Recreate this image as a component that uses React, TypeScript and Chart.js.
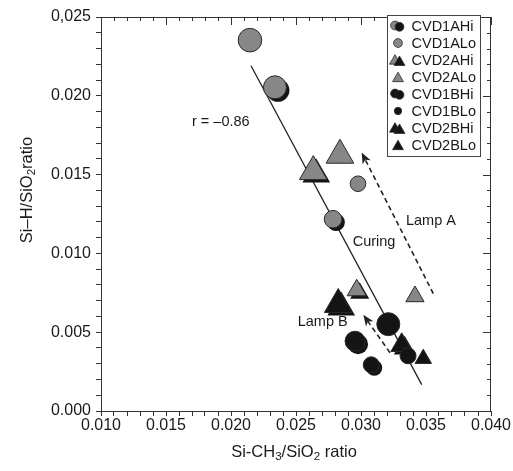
import React, { useEffect, useRef } from 'react';
import { Chart, registerables } from 'chart.js';

Chart.register(...registerables);

// ---------- data ----------
const xTickLabels = ['0.010', '0.015', '0.020', '0.025', '0.030', '0.035', '0.040'];
const yTickLabels = ['0.000', '0.005', '0.010', '0.015', '0.020', '0,025'];

const seriesNames = ['CVD1AHi', 'CVD1ALo', 'CVD2AHi', 'CVD2ALo', 'CVD1BHi', 'CVD1BLo', 'CVD2BHi', 'CVD2BLo'];

const cvd1AHiX = [0.02338, 0.02785];
const cvd1AHiY = [0.02054, 0.01217];
const cvd1ALoX = [0.02146, 0.02977];
const cvd1ALoY = [0.02353, 0.01442];
const cvd2AHiX = [0.02633, 0.02967];
const cvd2AHiY = [0.01519, 0.00766];
const cvd2ALoX = [0.02838, 0.03415];
const cvd2ALoY = [0.01623, 0.00727];
const cvd1BHiX = [0.02954, 0.03079];
const cvd1BHiY = [0.00443, 0.00293];
const cvd1BLoX = [0.0321, 0.03362];
const cvd1BLoY = [0.00551, 0.0035];
const cvd2BHiX = [0.02825, 0.03313];
const cvd2BHiY = [0.00676, 0.00417];
const cvd2BLoX = [0.03479];
const cvd2BLoY = [0.00332];

const fitX = [0.02154, 0.03467];
const fitY = [0.02191, 0.00167];

const lampAArrowX = [0.03556, 0.03005]; // tail, tip
const lampAArrowY = [0.00745, 0.0164];
const lampBArrowX = [0.03223, 0.03018];
const lampBArrowY = [0.0037, 0.0061];

const noteTexts = ['r = –0.86', 'Curing', 'Lamp A', 'Lamp B'];
const noteX = [0.0170, 0.02936, 0.03346, 0.02513];
const noteY = [0.01835, 0.01072, 0.01203, 0.00564];

// ---------- styles ----------
const GRAY = '#878787';
const BLACK = '#141414';
const EDGE = '#2a2a2a';
const AXIS = '#333333';
const TEXT = '#1a1a1a';
const FONT = "'Liberation Sans', Arial, Helvetica, sans-serif";

const pts = (xs: number[], ys: number[]) => xs.map((x, i) => ({ x, y: ys[i] }));

function pathShape(ctx: CanvasRenderingContext2D, shape: string, x: number, y: number, r: number) {
  ctx.beginPath();
  if (shape === 'circle') {
    ctx.arc(x, y, r, 0, Math.PI * 2);
  } else {
    const k = Math.sqrt(3) / 2;
    ctx.moveTo(x, y - r);
    ctx.lineTo(x + k * r, y + r / 2);
    ctx.lineTo(x - k * r, y + r / 2);
    ctx.closePath();
  }
}

function drawShape(ctx: CanvasRenderingContext2D, shape: string, x: number, y: number, r: number, fill: string) {
  pathShape(ctx, shape, x, y, r);
  ctx.fillStyle = fill;
  ctx.fill();
  ctx.strokeStyle = EDGE;
  ctx.lineWidth = 0.8;
  ctx.stroke();
}

function drawArrow(ctx: CanvasRenderingContext2D, x1: number, y1: number, x2: number, y2: number) {
  const ang = Math.atan2(y2 - y1, x2 - x1);
  const c = Math.cos(ang), s = Math.sin(ang);
  const headLen = 11, headW = 4.5;
  const bx = x2 - headLen * c, by = y2 - headLen * s;
  ctx.save();
  ctx.strokeStyle = '#222';
  ctx.lineWidth = 1.6;
  ctx.setLineDash([5, 3.5]);
  ctx.beginPath();
  ctx.moveTo(x1, y1);
  ctx.lineTo(bx + 3 * c, by + 3 * s);
  ctx.stroke();
  ctx.setLineDash([]);
  ctx.fillStyle = '#222';
  ctx.beginPath();
  ctx.moveTo(x2, y2);
  ctx.lineTo(bx - headW * s, by + headW * c);
  ctx.lineTo(bx + 3 * c, by + 3 * s);
  ctx.lineTo(bx + headW * s, by - headW * c);
  ctx.closePath();
  ctx.fill();
  ctx.restore();
}

function drawRich(ctx: CanvasRenderingContext2D, parts: [string, boolean][], size: number) {
  let w = 0;
  const widths = parts.map(([t, sub]) => {
    ctx.font = `${sub ? size * 0.7 : size}px ${FONT}`;
    return ctx.measureText(t).width;
  });
  widths.forEach((x) => (w += x));
  let cx = -w / 2;
  parts.forEach(([t, sub], i) => {
    ctx.font = `${sub ? size * 0.7 : size}px ${FONT}`;
    ctx.fillText(t, cx, sub ? size * 0.3 : 0);
    cx += widths[i];
  });
}

const decorPlugin = {
  id: 'decor',
  beforeDatasetDraw(chart: any, args: any) {
    const ds = chart.data.datasets[args.index];
    if (!ds.shadow) return;
    const ctx: CanvasRenderingContext2D = chart.ctx;
    const meta = chart.getDatasetMeta(args.index);
    const shape = ds.pointStyle === 'circle' ? 'circle' : 'triangle';
    ctx.save();
    meta.data.forEach((el: any) => {
      const r = el.options.radius;
      pathShape(ctx, shape, el.x + 3, el.y + 3, r);
      ctx.fillStyle = BLACK;
      ctx.fill();
    });
    ctx.restore();
  },
  afterDraw(chart: any) {
    const ctx: CanvasRenderingContext2D = chart.ctx;
    const xs = chart.scales.x;
    const ys = chart.scales.y;
    const { left, right, top, bottom } = chart.chartArea;

    ctx.save();
    ctx.strokeStyle = AXIS;
    ctx.lineWidth = 1;
    ctx.beginPath();
    ctx.moveTo(left, top + 0.5);
    ctx.lineTo(right, top + 0.5);
    ctx.moveTo(right - 0.5, top);
    ctx.lineTo(right - 0.5, bottom);
    xs.ticks.forEach((t: any, i: number) => {
      const px = Math.round(xs.getPixelForValue(t.value)) + 0.5;
      const len = i % 5 === 0 ? 8 : 4;
      ctx.moveTo(px, top);
      ctx.lineTo(px, top + len);
    });
    ys.ticks.forEach((t: any, i: number) => {
      const py = Math.round(ys.getPixelForValue(t.value)) + 0.5;
      const len = i % 5 === 0 ? 8 : 4;
      ctx.moveTo(right, py);
      ctx.lineTo(right - len, py);
    });
    ctx.stroke();

    drawArrow(ctx, xs.getPixelForValue(lampAArrowX[0]), ys.getPixelForValue(lampAArrowY[0]),
      xs.getPixelForValue(lampAArrowX[1]), ys.getPixelForValue(lampAArrowY[1]));
    drawArrow(ctx, xs.getPixelForValue(lampBArrowX[0]), ys.getPixelForValue(lampBArrowY[0]),
      xs.getPixelForValue(lampBArrowX[1]), ys.getPixelForValue(lampBArrowY[1]));

    ctx.fillStyle = TEXT;
    ctx.font = `14.5px ${FONT}`;
    ctx.textAlign = 'left';
    ctx.textBaseline = 'middle';
    noteTexts.forEach((t, i) => {
      ctx.fillText(t, xs.getPixelForValue(noteX[i]), ys.getPixelForValue(noteY[i]));
    });

    ctx.textAlign = 'left';
    ctx.textBaseline = 'middle';
    ctx.save();
    ctx.translate((left + right) / 2 - 2, 452);
    drawRich(ctx, [['Si-CH', false], ['3', true], ['/SiO', false], ['2', true], [' ratio', false]], 16.5);
    ctx.restore();
    ctx.save();
    ctx.translate(27, 190);
    ctx.rotate(-Math.PI / 2);
    drawRich(ctx, [['Si–H/SiO', false], ['2', true], ['ratio', false]], 16.5);
    ctx.restore();

    // legend
    const lx = 387.5, ly = 15.5, lw = 93, lh = 141;
    ctx.fillStyle = '#ffffff';
    ctx.fillRect(lx, ly, lw, lh);
    ctx.strokeStyle = '#444';
    ctx.lineWidth = 1;
    ctx.strokeRect(lx, ly, lw, lh);
    const datasets = chart.data.datasets.filter((d: any) => d.inLegend);
    datasets.forEach((d: any, i: number) => {
      const cy = 26 + i * 17;
      const shape = d.pointStyle === 'circle' ? 'circle' : 'triangle';
      const fill = d.backgroundColor;
      const r = shape === 'circle' ? (d.smallIcon ? 3.7 : 4.4) : 6.3;
      const oy = shape === 'circle' ? 0 : 1.5;
      if (d.shadow) {
        drawShape(ctx, shape, 395, cy + oy - 0.5, r, fill);
        drawShape(ctx, shape, 399.5, cy + oy + 0.8, r, BLACK);
      } else {
        drawShape(ctx, shape, 398, cy + oy, r, fill);
      }
      ctx.fillStyle = TEXT;
      ctx.font = `14.5px ${FONT}`;
      ctx.textAlign = 'left';
      ctx.textBaseline = 'middle';
      ctx.fillText(d.label, 411.5, cy + 0.5);
    });
    ctx.restore();
  },
};

function series(label: string, xs: number[], ys: number[], style: string, fill: string, radii: number[], shadow: boolean, smallIcon = false) {
  return {
    type: 'scatter' as const,
    label,
    data: pts(xs, ys),
    pointStyle: style,
    backgroundColor: fill,
    borderColor: EDGE,
    borderWidth: 1,
    pointRadius: radii,
    pointHoverRadius: radii,
    shadow,
    inLegend: true,
    smallIcon,
  };
}

export default function App() {
  const ref = useRef<HTMLCanvasElement | null>(null);
  useEffect(() => {
    if (!ref.current) return;
    const datasets: any[] = [
      series(seriesNames[0], cvd1AHiX, cvd1AHiY, 'circle', GRAY, [11.5, 8.8], true),
      series(seriesNames[1], cvd1ALoX, cvd1ALoY, 'circle', GRAY, [11.8, 7.8], false),
      series(seriesNames[2], cvd2AHiX, cvd2AHiY, 'triangle', GRAY, [16, 11], true),
      series(seriesNames[3], cvd2ALoX, cvd2ALoY, 'triangle', GRAY, [16, 10.5], false),
      series(seriesNames[4], cvd1BHiX, cvd1BHiY, 'circle', BLACK, [10, 8], true),
      series(seriesNames[5], cvd1BLoX, cvd1BLoY, 'circle', BLACK, [11.5, 8], false, true),
      series(seriesNames[6], cvd2BHiX, cvd2BHiY, 'triangle', BLACK, [16, 12.5], true),
      series(seriesNames[7], cvd2BLoX, cvd2BLoY, 'triangle', BLACK, [9.5], false),
      {
        type: 'scatter',
        label: 'fit',
        data: pts(fitX, fitY),
        showLine: true,
        borderColor: '#222',
        borderWidth: 1.3,
        pointRadius: 0,
        fill: false,
        inLegend: false,
      },
    ];
    const chart = new Chart(ref.current, {
      type: 'scatter',
      data: { datasets },
      options: {
        responsive: false,
        animation: false,
        events: [],
        layout: { padding: { top: 10, right: 22, left: 0, bottom: 0 } },
        plugins: { legend: { display: false }, tooltip: { enabled: false } },
        scales: {
          x: {
            type: 'linear',
            min: 0.01,
            max: 0.04,
            afterFit: (s: any) => { s.height = 60; },
            ticks: {
              stepSize: 0.001,
              autoSkip: false,
              maxRotation: 0,
              minRotation: 0,
              padding: 0,
              color: TEXT,
              font: { family: FONT, size: 16 },
              callback: (_v: any, i: number) => (i % 5 === 0 ? xTickLabels[i / 5] : ''),
            },
            grid: { drawOnChartArea: false, drawTicks: true, tickLength: 5, color: AXIS },
            border: { display: true, color: AXIS, width: 1 },
          },
          y: {
            type: 'linear',
            min: 0,
            max: 0.025,
            afterFit: (s: any) => { s.width = 101; },
            ticks: {
              stepSize: 0.001,
              autoSkip: false,
              padding: 5,
              color: TEXT,
              font: { family: FONT, size: 16 },
              callback: (_v: any, i: number) => (i % 5 === 0 ? yTickLabels[i / 5] : ''),
            },
            grid: { drawOnChartArea: false, drawTicks: true, tickLength: 5, color: AXIS },
            border: { display: true, color: AXIS, width: 1 },
          },
        },
      },
      plugins: [decorPlugin],
    } as any);
    return () => chart.destroy();
  }, []);
  return (
    <div style={{ position: 'fixed', left: 0, top: 0, width: 513, height: 471, background: '#fff' }}>
      <canvas ref={ref} width={513} height={471} style={{ display: 'block' }} />
    </div>
  );
}
